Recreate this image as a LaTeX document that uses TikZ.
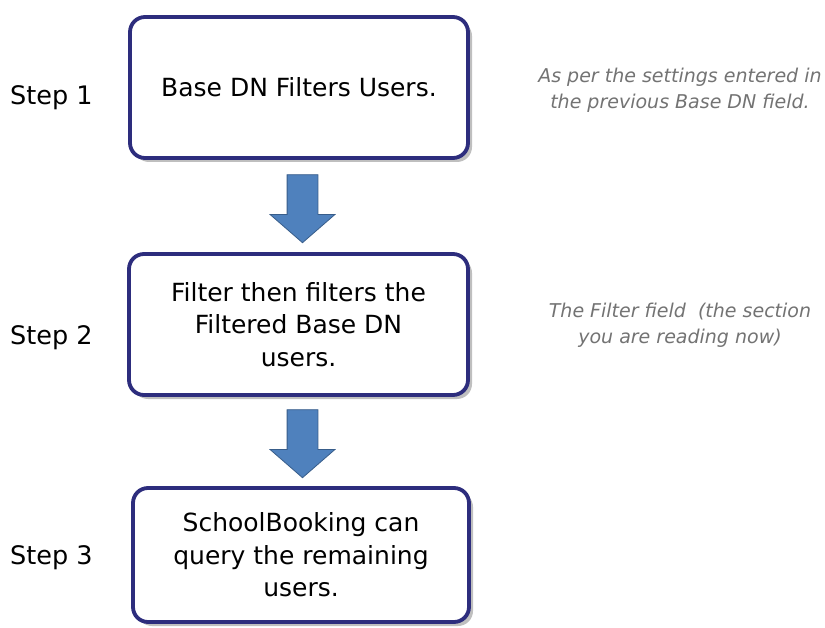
\documentclass[tikz,border=0pt]{standalone}
\usepackage{fontspec}
\setmainfont{DejaVu Sans}
\usetikzlibrary{shapes.arrows,shadows}
\definecolor{boxline}{RGB}{45,45,125}
\definecolor{arrowfill}{RGB}{79,129,189}
\definecolor{arrowline}{RGB}{56,93,138}
\definecolor{notegray}{RGB}{115,115,115}
\tikzset{
  stepbox/.style={draw=boxline, line width=3.8pt, rounded corners=15pt, fill=white,
    align=center, inner sep=0pt, font=\fontsize{25}{32.5}\selectfont,
    drop shadow={shadow xshift=4pt, shadow yshift=-4pt, fill=black, opacity=0.25}},
  steplabel/.style={font=\fontsize{25.5}{30}\selectfont, inner sep=0pt},
  note/.style={font=\itshape\fontsize{19}{26}\selectfont, text=notegray, align=center, inner sep=0pt},
  blockarrow/.style={single arrow, rotate=-90, fill=arrowfill, draw=arrowline,
    line width=0.8pt, minimum height=68pt, inner xsep=0pt, inner ysep=15pt,
    single arrow head extend=17pt, single arrow tip angle=98}
}
\begin{document}
\begin{tikzpicture}[x=1pt,y=-1pt]
\useasboundingbox[fill=white] (0,0) rectangle (825,628);
\node[stepbox, minimum width=338pt, minimum height=141pt] (b1) at (299,87.5) {Base DN Filters Users.};
\node[stepbox, minimum width=339pt, minimum height=141pt] (b2) at (298.5,324.5) {Filter then filters the\\Filtered Base DN\\users.};
\node[stepbox, minimum width=336pt, minimum height=134pt] (b3) at (301,555) {SchoolBooking can\\query the remaining\\users.};
\node[blockarrow] (a1) at (302.5,202) {};
\node[blockarrow] (a2) at (302.5,437) {};
\node[steplabel, anchor=west] (s1) at (10,98) {Step 1};
\node[steplabel, anchor=west] (s2) at (10,338) {Step 2};
\node[steplabel, anchor=west] (s3) at (10,558) {Step 3};
\node[note] (n1) at (680,90) {As per the settings entered in\\the previous Base DN field.};
\node[note] (n2) at (680,325) {The Filter field\ \ (the section\\you are reading now)};
\end{tikzpicture}
\end{document}
